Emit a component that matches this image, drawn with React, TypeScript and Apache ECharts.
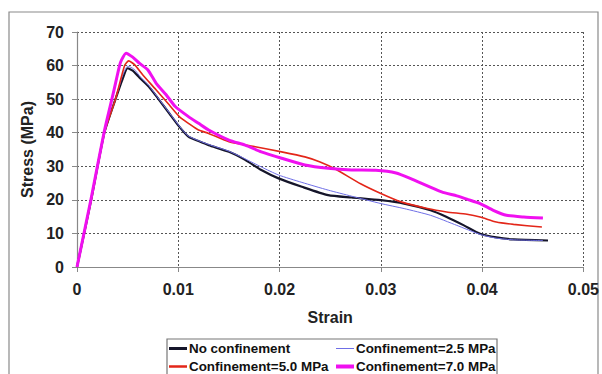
import React, { useEffect, useRef } from "react";
import * as echarts from "echarts";

const xTicks = [0, 0.01, 0.02, 0.03, 0.04, 0.05];
const yTicks = [0, 10, 20, 30, 40, 50, 60, 70];

const noConfStrain = [0, 0.0014, 0.0027, 0.0038, 0.0045, 0.005, 0.0055, 0.0062, 0.0071, 0.0081, 0.0091, 0.0101, 0.011, 0.012, 0.013, 0.015, 0.0166, 0.0182, 0.0199, 0.0222, 0.0248, 0.0271, 0.03, 0.0323, 0.0349, 0.0365, 0.0382, 0.0398, 0.0414, 0.0431, 0.0465];
const noConfStress = [0, 20, 40, 50, 56, 59.2, 58.5, 56.3, 53.7, 49.8, 45.8, 41.8, 38.8, 37.5, 36.3, 34.3, 31.9, 28.9, 26.4, 23.9, 21.4, 20.7, 19.9, 18.9, 16.9, 14.9, 12.4, 9.9, 8.8, 8.2, 7.9];

const conf25Strain = [0, 0.0014, 0.0027, 0.0038, 0.0045, 0.005, 0.0056, 0.0063, 0.0071, 0.0081, 0.0091, 0.0101, 0.011, 0.013, 0.015, 0.0166, 0.0182, 0.0199, 0.0222, 0.0248, 0.0271, 0.03, 0.0323, 0.0349, 0.0375, 0.0398, 0.0414, 0.0431, 0.046];
const conf25Stress = [0, 20, 40, 50, 57, 59.8, 59, 56.5, 54, 50, 46, 42, 39, 36.5, 34.5, 32.2, 29.8, 27.4, 25.2, 22.9, 21.1, 18.9, 17.4, 15.4, 12.4, 9.7, 8.6, 8.1, 7.9];

const conf50Strain = [0, 0.0014, 0.0027, 0.0038, 0.0047, 0.0051, 0.0057, 0.0065, 0.0078, 0.0091, 0.0101, 0.011, 0.012, 0.013, 0.015, 0.0176, 0.0202, 0.0225, 0.024, 0.0255, 0.028, 0.03, 0.032, 0.0346, 0.0365, 0.0385, 0.0398, 0.0414, 0.0431, 0.0459];
const conf50Stress = [0, 20, 40, 50, 60, 61.4, 60.2, 57.2, 52.8, 48.3, 44.8, 42.8, 40.8, 39.8, 37.3, 35.8, 34.3, 32.8, 31.3, 29.2, 24.8, 21.9, 19.4, 17.4, 16.4, 15.7, 14.9, 13.4, 12.7, 11.9];

const conf70Strain = [0, 0.0014, 0.0027, 0.0036, 0.0042, 0.0044, 0.00484, 0.0055, 0.00615, 0.007, 0.0078, 0.0088, 0.0097, 0.011, 0.012, 0.013, 0.015, 0.0166, 0.0182, 0.0202, 0.0225, 0.0248, 0.0271, 0.0295, 0.0315, 0.0329, 0.036, 0.0375, 0.0385, 0.0398, 0.0411, 0.0424, 0.0441, 0.046];
const conf70Stress = [0, 20.5, 40.5, 52, 60, 61.7, 63.7, 62.5, 60.7, 58.7, 54.8, 51.3, 47.8, 44.8, 42.8, 40.8, 37.8, 36.3, 34.3, 32.4, 30.4, 29.4, 28.9, 28.8, 28.0, 26.4, 22.4, 21.2, 20.2, 18.9, 16.9, 15.4, 14.9, 14.6];

const seriesNames = ["No confinement", "Confinement=2.5 MPa", "Confinement=5.0 MPa", "Confinement=7.0 MPa"];

const pairs = (xs: number[], ys: number[]) => xs.map((x, i) => [x, ys[i]]);

export default function App() {
  const ref = useRef<HTMLDivElement>(null);
  useEffect(() => {
    if (!ref.current) return;
    const chart = echarts.init(ref.current, null, { renderer: "svg" });
    const font = "Liberation Sans, Arial, sans-serif";
    const lineDefs = [
      { name: seriesNames[0], data: pairs(noConfStrain, noConfStress), color: "#15152a", width: 2.2 },
      { name: seriesNames[1], data: pairs(conf25Strain, conf25Stress), color: "#6f6fe6", width: 1 },
      { name: seriesNames[2], data: pairs(conf50Strain, conf50Stress), color: "#e32619", width: 1.6 },
      { name: seriesNames[3], data: pairs(conf70Strain, conf70Stress), color: "#f010f0", width: 3 },
    ];
    const legendPos = [
      { left: 169, top: 342, h: 3 },
      { left: 336, top: 342, h: 1 },
      { left: 169, top: 360, h: 2.5 },
      { left: 336, top: 360, h: 4 },
    ];
    chart.setOption({
      animation: false,
      backgroundColor: "#ffffff",
      grid: { left: 77, right: 15, top: 32, bottom: 107, containLabel: false },
      xAxis: {
        type: "value",
        min: xTicks[0],
        max: xTicks[xTicks.length - 1],
        interval: 0.01,
        name: "Strain",
        nameLocation: "middle",
        nameGap: 42,
        nameTextStyle: { fontFamily: font, fontWeight: "bold", fontSize: 16, color: "#222" },
        axisLine: { show: true, lineStyle: { color: "#888", width: 1.2 } },
        axisTick: { show: true, length: 5, lineStyle: { color: "#888" } },
        axisLabel: {
          margin: 14,
          fontFamily: font,
          fontWeight: "bold",
          fontSize: 16,
          color: "#222",
          formatter: (v: number) => (v === 0 ? "0" : String(+v.toFixed(2))),
        },
        splitLine: { show: true, lineStyle: { color: "#555", type: [2, 2], width: 1 } },
      },
      yAxis: {
        type: "value",
        min: yTicks[0],
        max: yTicks[yTicks.length - 1],
        interval: 10,
        name: "Stress (MPa)",
        nameLocation: "middle",
        nameGap: 38,
        nameTextStyle: { fontFamily: font, fontWeight: "bold", fontSize: 16, color: "#222" },
        axisLine: { show: true, lineStyle: { color: "#888", width: 1.2 } },
        axisTick: { show: true, length: 5, lineStyle: { color: "#888" } },
        axisLabel: { margin: 13, fontFamily: font, fontWeight: "bold", fontSize: 16, color: "#222" },
        splitLine: { show: true, lineStyle: { color: "#555", type: [2, 2], width: 1 } },
      },
      legend: legendPos.map((p, i) => ({
        data: [seriesNames[i]],
        left: p.left,
        top: p.top,
        padding: 0,
        icon: "rect",
        itemWidth: 18,
        itemHeight: p.h,
        itemGap: 0,
        textStyle: { fontFamily: font, fontWeight: "bold", fontSize: 13.4, color: "#111", padding: [0, 0, 0, -3] },
      })),
      graphic: [
        { type: "rect", shape: { x: 9, y: 12, width: 589, height: 380 }, style: { fill: "none", stroke: "#8a8a8a", lineWidth: 1.2 }, silent: true, z: -1 },
        { type: "rect", shape: { x: 167, y: 339, width: 330, height: 50 }, style: { fill: "#fff", stroke: "#777", lineWidth: 1.2 }, silent: true, z: -1 },
      ],
      series: lineDefs.map((d) => ({
        type: "line",
        name: d.name,
        data: d.data,
        showSymbol: false,
        smooth: 0.2,
        lineStyle: { color: d.color, width: d.width },
        itemStyle: { color: d.color },
      })),
    });
    return () => chart.dispose();
  }, []);
  return <div ref={ref} style={{ width: 602, height: 374, position: "absolute", left: 0, top: 0 }} />;
}
